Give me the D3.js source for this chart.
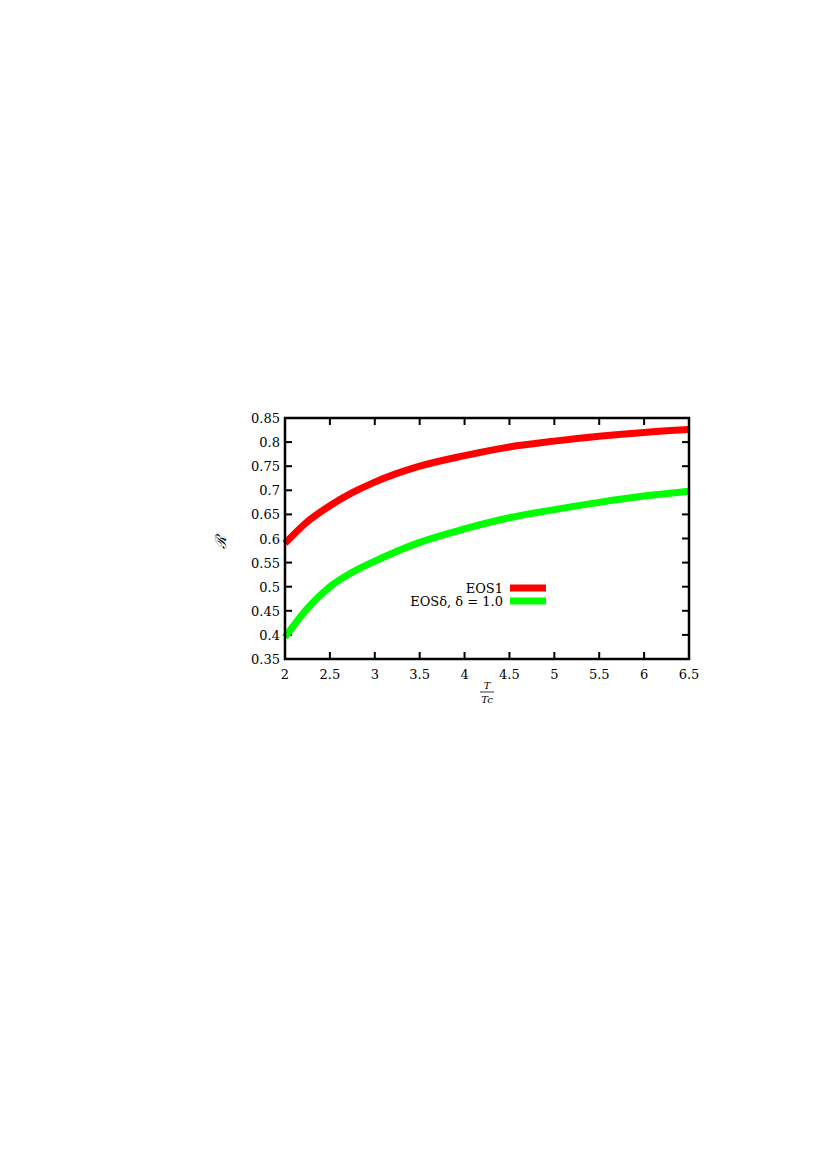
<!DOCTYPE html>
<html><head><meta charset="utf-8">
<script src="https://cdn.jsdelivr.net/npm/d3@7"></script>
<style>body{margin:0;background:#fff}text{font-family:"DejaVu Serif","Liberation Serif",serif}</style>
</head><body>
<svg id="c" width="817" height="1157"></svg>
<script>
const xTicks = [2, 2.5, 3, 3.5, 4, 4.5, 5, 5.5, 6, 6.5];
const yTicks = [0.35, 0.4, 0.45, 0.5, 0.55, 0.6, 0.65, 0.7, 0.75, 0.8, 0.85];
const tVals = [2, 2.25, 2.5, 2.75, 3, 3.5, 4, 4.5, 5, 5.5, 6, 6.5];
const eos1 = [0.59, 0.635, 0.668, 0.695, 0.717, 0.75, 0.772, 0.79, 0.802, 0.812, 0.82, 0.826];
const eosDelta = [0.395, 0.455, 0.50, 0.53, 0.553, 0.592, 0.62, 0.643, 0.66, 0.675, 0.688, 0.698];
const series = [
  {name: "EOS1", color: "#ff0000", vals: eos1},
  {name: "EOSδ, δ = 1.0", color: "#00ff00", vals: eosDelta}
];

const svg = d3.select("#c");
const L = 285, R = 689, T = 418, B = 659;
const x = d3.scaleLinear().domain([2, 6.5]).range([L, R]);
const y = d3.scaleLinear().domain([0.35, 0.85]).range([B, T]);

const g = svg.append("g");
const tk = 7;
xTicks.forEach(v => {
  g.append("line").attr("x1", x(v)).attr("x2", x(v)).attr("y1", B).attr("y2", B - tk).attr("stroke", "#000").attr("stroke-width", 2);
  g.append("line").attr("x1", x(v)).attr("x2", x(v)).attr("y1", T).attr("y2", T + tk).attr("stroke", "#000").attr("stroke-width", 2);
  g.append("text").attr("x", x(v)).attr("y", B + 20).attr("text-anchor", "middle").attr("font-size", 13).text(v);
});
yTicks.forEach(v => {
  g.append("line").attr("x1", L).attr("x2", L + tk).attr("y1", y(v)).attr("y2", y(v)).attr("stroke", "#000").attr("stroke-width", 2);
  g.append("line").attr("x1", R).attr("x2", R - tk).attr("y1", y(v)).attr("y2", y(v)).attr("stroke", "#000").attr("stroke-width", 2);
  g.append("text").attr("x", L - 5).attr("y", y(v) + 5).attr("text-anchor", "end").attr("font-size", 13).text(v);
});

const line = d3.line().x((d, i) => x(tVals[i])).y(d => y(d)).curve(d3.curveMonotoneX);
series.forEach((s, i) => {
  g.append("path").attr("d", line(s.vals)).attr("fill", "none").attr("stroke", s.color).attr("stroke-width", 7);
  const ly = 588 + i * 13;
  g.append("text").attr("x", 503).attr("y", ly + 5).attr("text-anchor", "end").attr("font-size", 13).text(s.name);
  g.append("line").attr("x1", 510).attr("x2", 546).attr("y1", ly).attr("y2", ly).attr("stroke", s.color).attr("stroke-width", 7);
});

g.append("rect").attr("x", L).attr("y", T).attr("width", R - L).attr("height", B - T).attr("fill", "none").attr("stroke", "#000").attr("stroke-width", 2.5);

g.append("text").attr("x", 226).attr("y", 542).attr("text-anchor", "middle").attr("font-size", 15).attr("font-style", "italic")
  .attr("transform", "rotate(-90,226,542)").text("ℛ");
g.append("text").attr("x", 487).attr("y", 689).attr("text-anchor", "middle").attr("font-size", 10).attr("font-style", "italic").text("T");
g.append("line").attr("x1", 480).attr("x2", 494).attr("y1", 692).attr("y2", 692).attr("stroke", "#000").attr("stroke-width", 0.8);
g.append("text").attr("x", 487).attr("y", 703).attr("text-anchor", "middle").attr("font-size", 10).attr("font-style", "italic").text("Tc");
</script>
</body></html>
